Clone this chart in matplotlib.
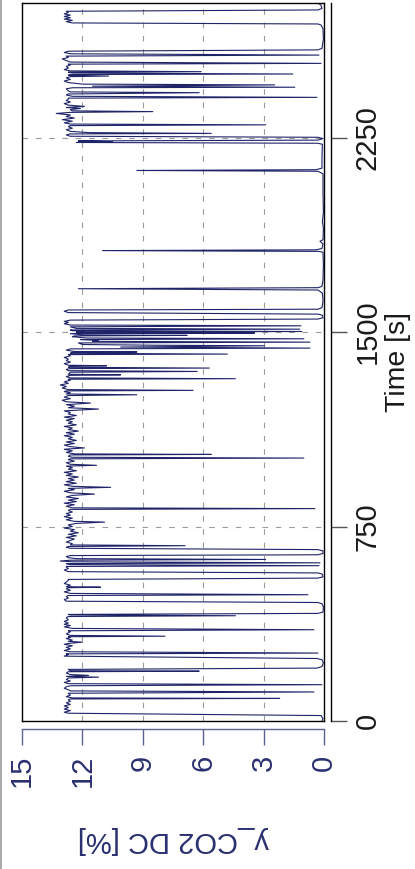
import matplotlib.pyplot as plt
from matplotlib.lines import Line2D

# data (time in s, CO2 dry concentration in %)
time_s = [
    0, 10, 21, 30, 34, 40, 46, 52, 58, 64, 70, 76, 82, 85, 87, 89, 94, 100,
    107, 112, 116, 121, 126, 132, 136, 140, 144, 149, 154, 160, 166, 169, 172,
    176, 179, 185, 190, 192, 194, 199, 204, 210, 225, 236, 241, 250, 256, 259,
    262, 267, 272, 278, 284, 290, 296, 300, 304, 307, 312, 318, 322, 325, 327,
    330, 336, 344, 348, 352, 357, 363, 368, 373, 378, 384, 390, 398, 403, 406,
    409, 411, 415, 420, 440, 452, 457, 462, 468, 474, 480, 484, 487, 492, 498,
    504, 510, 514, 516, 518, 524, 530, 536, 542, 546, 551, 556, 566, 571, 576,
    582, 588, 594, 596, 599, 603, 607, 610, 614, 617, 620, 623, 626, 630, 634,
    638, 641, 646, 656, 661, 666, 670, 673, 676, 679, 684, 690, 696, 702, 708,
    714, 720, 726, 732, 738, 744, 750, 756, 762, 767, 770, 776, 782, 788, 794,
    800, 806, 812, 816, 819, 822, 828, 834, 840, 846, 852, 858, 864, 870, 875,
    880, 886, 892, 897, 901, 905, 911, 917, 923, 929, 935, 941, 947, 953, 959,
    965, 971, 977, 983, 986, 990, 996, 1002, 1008, 1011, 1014, 1017, 1021,
    1026, 1028, 1030, 1036, 1042, 1048, 1053, 1058, 1064, 1070, 1076, 1082,
    1088, 1094, 1100, 1106, 1112, 1118, 1124, 1130, 1136, 1142, 1148, 1154,
    1160, 1166, 1172, 1178, 1184, 1190, 1196, 1203, 1208, 1214, 1220, 1226,
    1231, 1237, 1243, 1249, 1255, 1258, 1261, 1266, 1270, 1273, 1275, 1278,
    1284, 1290, 1296, 1302, 1308, 1314, 1318, 1320, 1323, 1328, 1333, 1335,
    1337, 1345, 1348, 1351, 1356, 1359, 1361, 1364, 1368, 1370, 1372, 1378,
    1384, 1390, 1396, 1402, 1408, 1413, 1415, 1418, 1421, 1423, 1425, 1430,
    1435, 1438, 1442, 1447, 1449, 1452, 1458, 1461, 1464, 1468, 1471, 1474,
    1477, 1482, 1485, 1487, 1489, 1494, 1496, 1498, 1500, 1502, 1505, 1508,
    1511, 1514, 1520, 1524, 1527, 1532, 1537, 1541, 1546, 1550, 1555, 1565,
    1569, 1575, 1580, 1585, 1588, 1594, 1620, 1650, 1662, 1667, 1671, 1676,
    1700, 1760, 1808, 1811, 1814, 1817, 1822, 1840, 1850, 1856, 1900, 1926,
    1960, 2040, 2110, 2120, 2123, 2126, 2132, 2177, 2224, 2228, 2231, 2234,
    2237, 2240, 2246, 2251, 2255, 2260, 2264, 2266, 2269, 2274, 2280, 2286,
    2292, 2296, 2299, 2302, 2307, 2313, 2319, 2325, 2331, 2337, 2343, 2347,
    2350, 2353, 2358, 2362, 2366, 2370, 2375, 2381, 2387, 2393, 2398, 2402,
    2405, 2409, 2414, 2418, 2423, 2426, 2430, 2438, 2442, 2444, 2448, 2453,
    2456, 2462, 2468, 2474, 2480, 2485, 2487, 2490, 2493, 2495, 2499, 2502,
    2504, 2507, 2512, 2518, 2524, 2530, 2533, 2536, 2541, 2547, 2553, 2559,
    2564, 2568, 2573, 2578, 2583, 2588, 2594, 2630, 2670, 2684, 2688, 2692,
    2697, 2702, 2707, 2712, 2717, 2722, 2727, 2732, 2737, 2742, 2748, 2760,
    2770,
]
co2_pct = [
    0.1, 0.05, 0.15, 12.7, 12.9, 12.6, 12.9, 12.7, 12.9, 12.6, 12.8, 12.6,
    12.7, 12.6, 2.2, 12.5, 12.8, 12.6, 12.7, 0.5, 12.6, 12.7, 12.9, 12.8, 12.6,
    0.1, 12.7, 12.9, 12.6, 12.8, 12.7, 11.2, 12.8, 11.7, 12.6, 12.8, 12.7, 6.2,
    12.6, 12.7, 0.35, 0.1, 0.03, 0.1, 0.35, 12.9, 12.7, 12.8, 0.3, 12.6, 12.9,
    12.6, 12.8, 12.5, 12.9, 12.6, 12.0, 12.7, 12.5, 12.8, 12.6, 12.7, 7.9,
    12.6, 12.8, 12.6, 12.7, 0.5, 12.5, 12.9, 12.6, 12.9, 12.7, 12.9, 12.7,
    12.8, 12.7, 4.4, 12.6, 12.7, 0.3, 0.05, 0.03, 0.1, 0.3, 12.8, 12.9, 12.7,
    12.8, 12.7, 0.8, 12.6, 12.9, 12.6, 12.8, 12.7, 11.1, 12.8, 12.6, 12.9,
    12.8, 12.7, 12.7, 0.3, 0.05, 0.08, 0.3, 12.7, 12.9, 12.7, 12.8, 12.8, 0.25,
    12.6, 12.8, 0.2, 12.5, 13.1, 12.6, 2.9, 12.3, 12.7, 12.8, 12.6, 0.3, 0.05,
    0.05, 0.3, 12.6, 12.8, 12.7, 6.9, 12.6, 12.5, 12.8, 12.6, 12.4, 12.8, 12.3,
    12.7, 12.2, 12.6, 12.4, 12.9, 12.5, 12.7, 12.3, 10.9, 12.4, 12.8, 12.5,
    12.9, 12.6, 12.8, 12.5, 12.7, 12.6, 0.45, 12.5, 12.8, 12.4, 12.9, 12.3,
    12.7, 12.2, 12.8, 12.5, 11.4, 12.6, 12.9, 12.4, 12.7, 10.6, 12.5, 12.9,
    12.3, 12.8, 12.4, 12.7, 12.2, 12.8, 12.5, 12.9, 12.3, 12.7, 12.5, 12.8,
    11.3, 12.6, 12.8, 12.4, 12.7, 12.6, 1.0, 12.5, 12.7, 12.6, 5.6, 12.4,
    12.8, 12.5, 12.9, 11.9, 12.6, 12.9, 12.4, 12.8, 12.3, 12.7, 12.5, 12.9,
    12.4, 12.8, 12.2, 12.7, 12.5, 12.9, 12.3, 12.7, 12.5, 12.8, 12.4, 12.9,
    12.3, 12.7, 12.6, 12.9, 11.2, 12.7, 12.4, 12.8, 11.6, 12.8, 13.0, 12.6,
    12.9, 12.7, 9.3, 12.8, 12.6, 12.9, 12.8, 6.5, 12.7, 13.0, 12.8, 13.1,
    12.7, 12.9, 12.6, 12.7, 4.4, 12.6, 12.8, 12.6, 10.1, 12.7, 12.6, 6.3,
    12.7, 12.8, 12.6, 5.7, 12.7, 12.6, 10.8, 12.7, 12.9, 12.6, 12.8, 12.7,
    12.9, 12.6, 12.7, 4.8, 12.6, 12.5, 9.3, 12.4, 12.8, 12.6, 0.7, 10.1, 2.95,
    8.3, 12.0, 12.2, 0.7, 11.5, 11.2, 12.1, 1.0, 11.8, 12.5, 12.4, 6.8, 12.0,
    12.6, 3.45, 11.8, 12.3, 1.1, 12.5, 12.6, 1.2, 12.3, 12.6, 1.15, 12.6,
    12.9, 12.7, 12.9, 12.6, 0.3, 0.05, 0.08, 0.3, 12.7, 12.9, 12.7, 0.3, 0.1,
    0.05, 0.08, 0.3, 12.2, 0.3, 0.1, 0.05, 0.03, 0.05, 0.3, 11.0, 0.4, 0.1,
    0.05, 0.2, 0.05, 0.03, 0.08, 0.03, 0.05, 0.05, 0.3, 9.3, 0.4, 0.1, 0.1,
    0.08, 0.3, 12.3, 10.5, 12.2, 0.3, 0.05, 0.3, 12.6, 12.8, 12.6, 5.6, 11.7,
    12.6, 12.8, 12.5, 12.7, 12.6, 2.9, 12.6, 12.9, 12.5, 13.0, 12.4, 12.8,
    12.6, 13.3, 12.6, 8.5, 12.5, 12.6, 12.1, 12.8, 11.9, 12.7, 12.9, 12.6,
    12.8, 12.7, 12.7, 0.35, 12.5, 12.8, 12.7, 6.2, 12.6, 12.7, 12.8, 12.5,
    1.45, 11.5, 2.45, 12.0, 12.7, 12.9, 12.6, 12.8, 12.6, 10.7, 12.7, 12.6,
    1.55, 12.5, 12.7, 6.1, 12.6, 12.9, 12.7, 12.8, 12.6, 12.7, 0.15, 12.6,
    12.8, 13.0, 12.7, 12.8, 0.25, 12.6, 12.9, 12.7, 0.3, 0.1, 0.03, 0.05, 0.15,
    0.3, 12.5, 12.8, 12.5, 12.9, 12.6, 12.9, 12.6, 12.9, 12.7, 12.8, 0.3, 0.1,
    0.15, 0.3,
]

co2_ticks = [15, 12, 9, 6, 3, 0]
time_ticks = [0, 750, 1500, 2250]
co2_label = "y_CO2 DC [%]"
time_label = "Time [s]"

line_color = "#1f2469"
navy = "#2a3070"
axis_blue = "#5d6191"

plt.rcParams["font.family"] = ["Liberation Sans", "DejaVu Sans"]

W, H = 415, 869
fig = plt.figure(figsize=(W / 100, H / 100), dpi=100)
# plot box in pixels: x 22..324, y 2.7..721
ax = fig.add_axes([22 / W, 1 - 721 / H, 302 / W, 718.3 / H])
ax.plot(co2_pct, time_s, color=line_color, lw=0.8)
ax.set_xlim(15, 0)
ax.set_ylim(0, 2770)

# dashed grid only on inner ticks
ax.set_xticks([12, 9, 6, 3])
ax.set_yticks([750, 1500, 2250])
ax.tick_params(length=0, labelleft=False, labelbottom=False)
ax.grid(True, color="#9a9a9a", lw=0.8, linestyle=(0, (5, 7)))
ax.set_axisbelow(True)
for s in ax.spines.values():
    s.set_color("black")
    s.set_linewidth(1.0)

# time axis, offset to the right of the box
sec_y = ax.secondary_yaxis(1 + 7 / 302)
sec_y.set_yticks(time_ticks, labels=[str(t) for t in time_ticks],
                 rotation=90, va="center")
sec_y.tick_params(direction="out", length=11.5, width=1.0, color="#555555",
                  pad=5, labelsize=21, labelcolor="#1a1a1a")
sec_y.spines["right"].set_color("black")
sec_y.spines["right"].set_linewidth(1.0)
sec_y.set_ylabel(time_label, fontsize=20.5, color="#1a1a1a")
sec_y.yaxis.set_label_coords(385 / W, 1 - 362 / H, transform=fig.transFigure)

# CO2 axis, offset below the box
sec_x = ax.secondary_xaxis(-8 / 718.3)
sec_x.set_xticks(co2_ticks, labels=[str(v) for v in co2_ticks],
                 rotation=90, ha="center", va="top")
sec_x.tick_params(direction="out", length=11.5, width=1.0, color=axis_blue,
                  pad=7, labelsize=21, labelcolor=navy)
sec_x.spines["bottom"].set_color(axis_blue)
sec_x.spines["bottom"].set_linewidth(1.0)
sec_x.set_xlabel(co2_label, fontsize=21, rotation=180, color=navy,
                 labelpad=28)

# thin page edge on the left
fig.add_artist(Line2D([0.6 / W, 0.6 / W], [0, 1], transform=fig.transFigure,
                      color="#9a9a9a", lw=1.2))

fig.savefig("out.png", dpi=100)
